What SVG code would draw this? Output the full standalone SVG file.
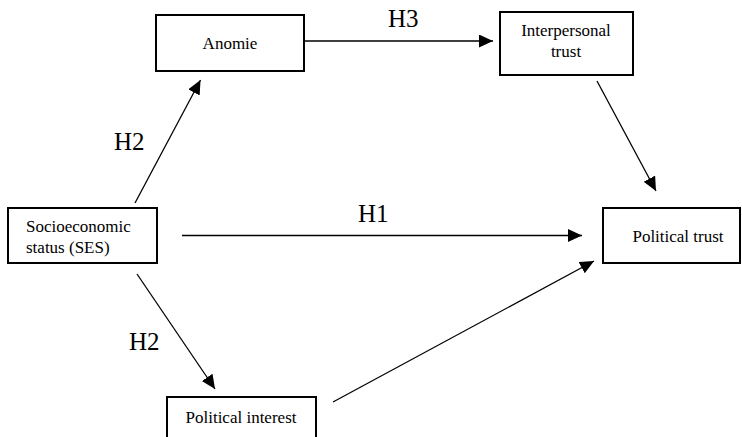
<svg xmlns="http://www.w3.org/2000/svg" width="742" height="437" viewBox="0 0 742 437">
<style>
.box{fill:#fff;stroke:#000;stroke-width:2}
text{font-family:'Liberation Serif','Times New Roman',Times,'DejaVu Serif',serif;fill:#000}
.lbl{font-size:17px;text-anchor:middle}
.lft{font-size:17px;text-anchor:start}
.h{font-size:25px}
.edge{stroke:#000;stroke-width:1.3;fill:none;marker-end:url(#ah)}
</style>
<defs>
<marker id="ah" markerUnits="userSpaceOnUse" markerWidth="16" markerHeight="14" refX="14" refY="6.5" orient="auto">
<path d="M0,0 L14,6.5 L0,13 Z" fill="#000"/>
</marker>
</defs>
<rect width="742" height="437" fill="#fff"/>
<g id="connectors">
<line class="edge" x1="135" y1="203" x2="200.5" y2="80"/>
<line class="edge" x1="304" y1="41" x2="493" y2="41"/>
<line class="edge" x1="597" y1="81" x2="656" y2="191"/>
<line class="edge" x1="182" y1="235.5" x2="582" y2="235.5"/>
<line class="edge" x1="137" y1="274" x2="215" y2="389"/>
<line class="edge" x1="333" y1="402" x2="594" y2="261"/>
</g>
<g id="labels" font-family="Liberation Serif, serif">
<text class="h" x="114" y="150">H2</text>
<text class="h" x="388" y="27">H3</text>
<text class="h" x="358" y="222">H1</text>
<text class="h" x="129" y="350">H2</text>
</g>
<g id="anomie">
<rect class="box" x="156" y="15" width="148" height="56"/>
<text class="lbl" x="230" y="49">Anomie</text>
</g>
<g id="interpersonal-trust">
<rect class="box" x="500" y="12" width="133" height="63"/>
<text class="lbl" x="566" y="36">Interpersonal</text>
<text class="lbl" x="566" y="57">trust</text>
</g>
<g id="ses">
<rect class="box" x="8" y="208" width="149" height="55"/>
<text class="lft" x="26" y="232">Socioeconomic</text>
<text class="lft" x="26" y="253">status (SES)</text>
</g>
<g id="political-trust">
<rect class="box" x="603" y="208" width="137" height="55"/>
<text class="lbl" x="678" y="242">Political trust</text>
</g>
<g id="political-interest">
<rect class="box" x="167" y="397" width="149" height="50"/>
<text class="lbl" x="241" y="423">Political interest</text>
</g>
</svg>
